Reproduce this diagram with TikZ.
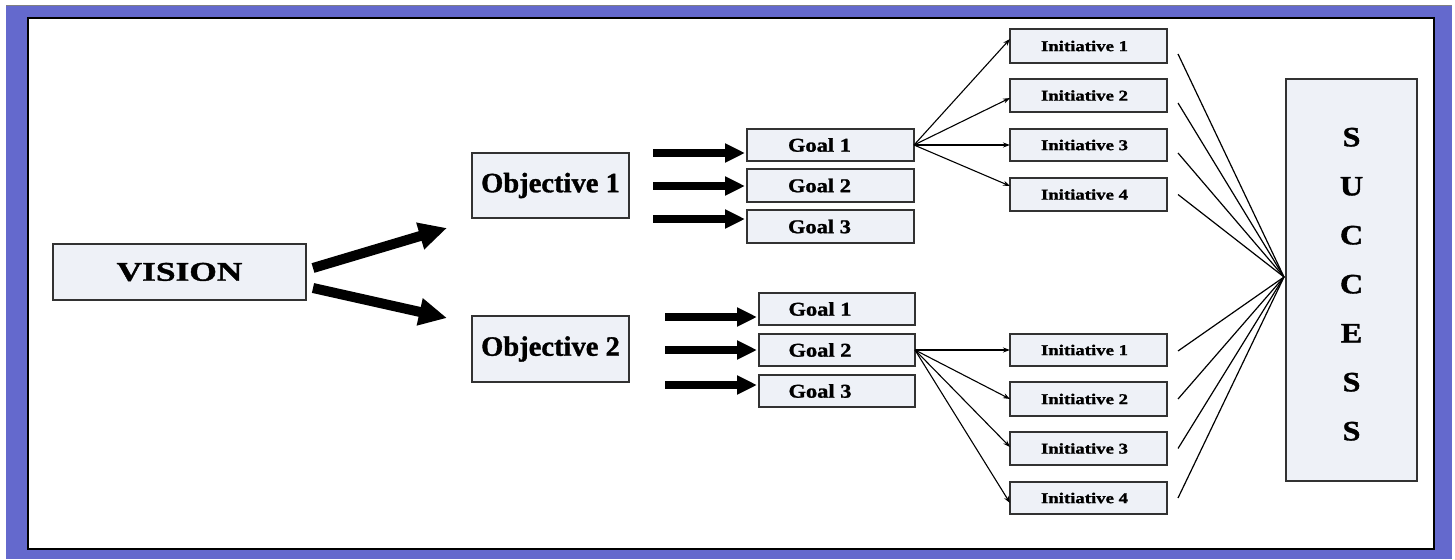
\documentclass[tikz,border=0pt]{standalone}
\usepackage{fontspec}
\setmainfont{Liberation Serif}[BoldFeatures={FakeBold=1.2}]
\usepackage{graphicx}
\usetikzlibrary{arrows.meta,calc}
\definecolor{frameblue}{RGB}{100,105,205}
\definecolor{boxfill}{RGB}{238,241,247}
\definecolor{boxline}{RGB}{50,50,50}
\newcommand{\lbl}[3]{\scalebox{#2}[1]{\fontsize{#1}{#1}\selectfont\bfseries #3}}
\begin{document}
\begin{tikzpicture}[x=1pt,y=-1pt,
  box/.style={draw=boxline, fill=boxfill, line width=1.3pt, inner sep=0pt, outer sep=0pt},
  bigarrow/.style={line width=10pt, -{Triangle[length=28pt,width=26pt]}},
  goalarrow/.style={line width=8pt, -{Triangle[length=20pt,width=18pt]}},
  thinarrow/.style={line width=1.1pt, -{Stealth[length=7pt,width=5pt]}},
  toline/.style={line width=1.2pt}]
\useasboundingbox (0,0) rectangle (1455,559);
\fill[frameblue] (6,6) rectangle (1452,559);
\draw[gray, line width=1pt] (6,6) -- (1452,6);
\draw[fill=white, line width=2pt] (28,18.5) rectangle (1434,549);

% main nodes
\node[box, minimum width=253pt, minimum height=56pt] (vision) at (179.5,272) {\lbl{27}{1.31}{VISION}};
\node[box, minimum width=157pt, minimum height=65pt] (obj1) at (550.5,185.5) {\lbl{28}{1.02}{Objective 1}};
\node[box, minimum width=157pt, minimum height=66pt] (obj2) at (550.5,349) {\lbl{28}{1.02}{Objective 2}};

% goals (top)
\node[box, minimum width=167pt, minimum height=32pt] (g11) at (830.5,145) {\lbl{19.5}{1.15}{Goal 1}\kern22pt};
\node[box, minimum width=167pt, minimum height=33pt] (g12) at (830.5,185.5) {\lbl{19.5}{1.15}{Goal 2}\kern22pt};
\node[box, minimum width=167pt, minimum height=33pt] (g13) at (830.5,226.5) {\lbl{19.5}{1.15}{Goal 3}\kern22pt};
% goals (bottom)
\node[box, minimum width=156pt, minimum height=32pt] (g21) at (837,309) {\lbl{19.5}{1.15}{Goal 1}\kern34pt};
\node[box, minimum width=156pt, minimum height=32pt] (g22) at (837,350) {\lbl{19.5}{1.15}{Goal 2}\kern34pt};
\node[box, minimum width=156pt, minimum height=32pt] (g23) at (837,391) {\lbl{19.5}{1.15}{Goal 3}\kern34pt};

% initiatives (top)
\node[box, minimum width=157pt, minimum height=34pt] (ti1) at (1088.5,46) {\lbl{15}{1.25}{Initiative 1}\kern8pt};
\node[box, minimum width=157pt, minimum height=33pt] (ti2) at (1088.5,95.5) {\lbl{15}{1.25}{Initiative 2}\kern8pt};
\node[box, minimum width=157pt, minimum height=32pt] (ti3) at (1088.5,145) {\lbl{15}{1.25}{Initiative 3}\kern8pt};
\node[box, minimum width=157pt, minimum height=33pt] (ti4) at (1088.5,194.5) {\lbl{15}{1.25}{Initiative 4}\kern8pt};
% initiatives (bottom)
\node[box, minimum width=157pt, minimum height=32pt] (bi1) at (1088.5,350) {\lbl{15}{1.25}{Initiative 1}\kern8pt};
\node[box, minimum width=157pt, minimum height=34pt] (bi2) at (1088.5,399) {\lbl{15}{1.25}{Initiative 2}\kern8pt};
\node[box, minimum width=157pt, minimum height=33pt] (bi3) at (1088.5,448.5) {\lbl{15}{1.25}{Initiative 3}\kern8pt};
\node[box, minimum width=157pt, minimum height=32pt] (bi4) at (1088.5,498) {\lbl{15}{1.25}{Initiative 4}\kern8pt};

% success
\node[box, minimum width=131pt, minimum height=402pt, align=center,
      font=\fontsize{28}{49}\selectfont] (succ) at (1351.5,280)
  {\rule{0pt}{27pt}\lbl{28}{1.15}{S}\\\lbl{28}{1.15}{U}\\\lbl{28}{1.15}{C}\\\lbl{28}{1.15}{C}\\\lbl{28}{1.15}{E}\\\lbl{28}{1.15}{S}\\\lbl{28}{1.15}{S}};
\coordinate (conv) at ($(succ.west)+(-2,-3)$);

% vision -> objectives
\draw[bigarrow] ($(vision.east)+(7,-4)$) -- ($(obj1.west)+(-25,42.5)$);
\draw[bigarrow] ($(vision.east)+(7,16)$) -- ($(obj2.west)+(-25,-31)$);

% arrows into goals
\draw[goalarrow] ($(g11.west)+(-94,8)$) -- ($(g11.west)+(-2,8)$);
\draw[goalarrow] ($(g12.west)+(-94,0.5)$) -- ($(g12.west)+(-2,0.5)$);
\draw[goalarrow] ($(g13.west)+(-94,-7.5)$) -- ($(g13.west)+(-2,-7.5)$);
\draw[goalarrow] ($(g21.west)+(-94,8)$) -- ($(g21.west)+(-2,8)$);
\draw[goalarrow] ($(g22.west)+(-94,0)$) -- ($(g22.west)+(-2,0)$);
\draw[goalarrow] ($(g23.west)+(-94,-6)$) -- ($(g23.west)+(-2,-6)$);

% goal -> initiatives
\draw[thinarrow] (g11.east) -- ($(ti1.west)+(0,-7)$);
\draw[thinarrow] (g11.east) -- ($(ti2.west)+(0,2.5)$);
\draw[thinarrow] (g11.east) -- (ti3.west);
\draw[thinarrow] (g11.east) -- ($(ti4.west)+(0,-8.5)$);
\draw[thinarrow] (g22.east) -- (bi1.west);
\draw[thinarrow] (g22.east) -- (bi2.west);
\draw[thinarrow] (g22.east) -- ($(bi3.west)+(0,-1.5)$);
\draw[thinarrow] (g22.east) -- ($(bi4.west)+(0,5)$);

% initiatives -> success
\draw[toline] ($(ti1.east)+(11,8)$) -- (conv);
\draw[toline] ($(ti2.east)+(11,7.5)$) -- (conv);
\draw[toline] ($(ti3.east)+(11,8)$) -- (conv);
\draw[toline] ($(ti4.east)+(11,0)$) -- (conv);
\draw[toline] ($(bi1.east)+(11,1)$) -- (conv);
\draw[toline] ($(bi2.east)+(11,0)$) -- (conv);
\draw[toline] ($(bi3.east)+(11,0)$) -- (conv);
\draw[toline] ($(bi4.east)+(11,0)$) -- (conv);
\end{tikzpicture}
\end{document}
